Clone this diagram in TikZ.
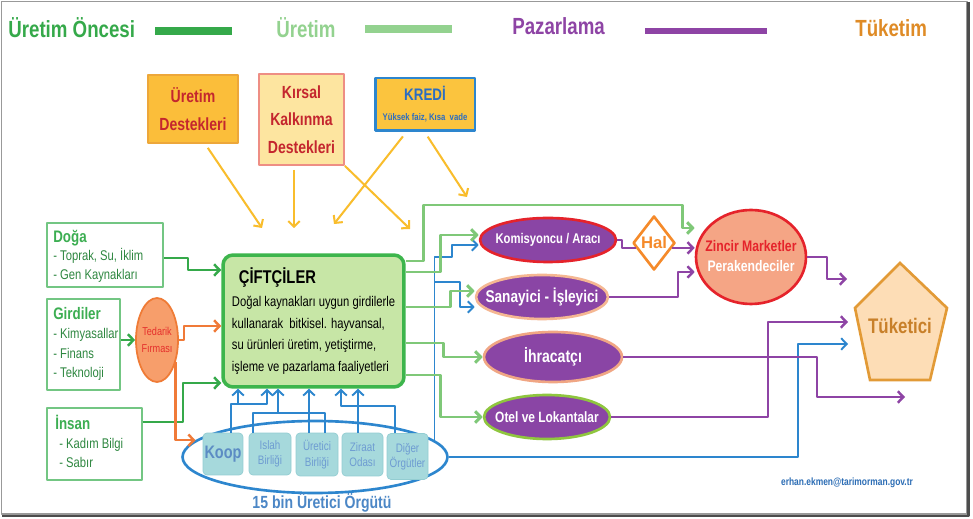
\documentclass[tikz,border=0pt]{standalone}
\usepackage{fontspec}
\setmainfont{Liberation Sans}
\newfontfamily\nar[FakeStretch=0.8]{Liberation Sans}
\usetikzlibrary{arrows.meta,shapes.geometric}
\newcommand\fsz[2]{\fontsize{#1}{#2}\selectfont}

\definecolor{cDgreen}{HTML}{35A94A}
\definecolor{cLgreen}{HTML}{93D28F}
\definecolor{cPurple}{HTML}{8E44A5}
\definecolor{cOrange}{HTML}{DF8B26}
\definecolor{cUredFill}{HTML}{FBBE3A}
\definecolor{cUredLine}{HTML}{EDA73A}
\definecolor{cDkred}{HTML}{C4262E}
\definecolor{cKirsFill}{HTML}{FDE5A0}
\definecolor{cKirsLine}{HTML}{EE8E84}
\definecolor{cKredFill}{HTML}{FBC43E}
\definecolor{cBlue}{HTML}{2D86CE}
\definecolor{cKredText}{HTML}{2B6DC2}
\definecolor{cYellow}{HTML}{F9BD2C}
\definecolor{cLbox}{HTML}{73C683}
\definecolor{cLhead}{HTML}{3CAE52}
\definecolor{cLitem}{HTML}{2E8740}
\definecolor{cTedFill}{HTML}{F79E6B}
\definecolor{cTedLine}{HTML}{EF7B36}
\definecolor{cTedText}{HTML}{E5302C}
\definecolor{cCifFill}{HTML}{C7E6A6}
\definecolor{cCifLine}{HTML}{3DB54C}
\definecolor{cOrgFill}{HTML}{A6D9DC}
\definecolor{cOrgLine}{HTML}{93CDD2}
\definecolor{cOrgText}{HTML}{6E9CD2}
\definecolor{cKoopText}{HTML}{5C8CC4}
\definecolor{cOrgLbl}{HTML}{4C87C6}
\definecolor{cConnGreen}{HTML}{7FC878}
\definecolor{cMkt}{HTML}{8A45A5}
\definecolor{cRed}{HTML}{E5232B}
\definecolor{cSanLine}{HTML}{F5B792}
\definecolor{cIhrLine}{HTML}{F0A684}
\definecolor{cOtelLine}{HTML}{8FC63F}
\definecolor{cHal}{HTML}{F58A2A}
\definecolor{cZinFill}{HTML}{F5A585}
\definecolor{cPentFill}{HTML}{FDDDB6}
\definecolor{cPentLine}{HTML}{E29A36}
\definecolor{cPentText}{HTML}{C8802A}
\definecolor{cEmail}{HTML}{2C6DB5}
\definecolor{cOrangeLn}{HTML}{F07A38}

\tikzset{
  barb/.style={-{Straight Barb[length=1.1mm,width=2.3mm]}},
  legend/.style={font=\nar\bfseries\fsz{13.3}{15}, inner sep=0, anchor=west},
  topbox/.style={rectangle, inner sep=0, align=center, font=\nar\bfseries\fsz{10}{15.7}, text=cDkred},
  yarr/.style={draw=cYellow, line width=1.15pt, barb},
  lbox/.style={rectangle, draw=cLbox, line width=1pt, fill=white, inner sep=0},
  ltext/.style={anchor=west, align=left, inner sep=0, text=cLitem},
  dg/.style={draw=cDgreen, line width=1.4pt, barb},
  og/.style={draw=cOrangeLn, line width=1.4pt, barb},
  lg/.style={draw=cConnGreen, line width=1.7pt, barb},
  bl/.style={draw=cBlue, line width=1.1pt},
  blarr/.style={bl, barb},
  pu/.style={draw=cPurple, line width=1.4pt},
  puarr/.style={pu, barb},
  orgbox/.style={rectangle, rounded corners=0.08cm, fill=cOrgFill, draw=cOrgLine, line width=0.4pt,
    inner sep=0, align=center, font=\nar\fsz{7}{8.7}, text=cOrgText},
  mkt/.style={ellipse, fill=cMkt, line width=1.5pt, inner sep=0},
  mkttext/.style={inner sep=0, text=white},
}

\begin{document}
\begin{tikzpicture}[x=0.02cm,y=-0.02cm,line join=round]
\useasboundingbox (0,0) rectangle (973,519);
\fill[white] (0,0) rectangle (973,519);

% frame with a shadow on the right and bottom
\draw[black!40, line width=0.7pt] (1.5,1.5) rectangle (967,514);
\draw[black!70, line width=1.6pt] (968.5,2) -- (968.5,516) -- (2,516);

% stage legend
\node[legend, text=cDgreen] (lgA) at (8,28) {Üretim Öncesi};
\node[legend, text=cLgreen] (lgB) at (276,28) {Üretim};
\node[legend, text=cPurple] (lgC) at (512,26) {Pazarlama};
\node[legend, text=cOrange] (lgD) at (855,28) {Tüketim};
\draw[cDgreen, line width=4pt] (155,31) -- (232,31);
\draw[cLgreen, line width=4pt] (365,29) -- (452,29);
\draw[cPurple, line width=3.6pt] (645,31) -- (767,31);

% support boxes
\node[topbox, fill=cUredFill, draw=cUredLine, line width=0.8pt, minimum width=1.8cm, minimum height=1.36cm] (ured) at (193,109) {Üretim\\Destekleri};
\node[topbox, fill=cKirsFill, draw=cKirsLine, line width=1pt, minimum width=1.7cm, minimum height=1.82cm] (kirsal) at (301.5,119.5) {Kırsal\\Kalkınma\\Destekleri};
\node[topbox, fill=cKredFill, draw=cBlue, line width=1.7pt, minimum width=2cm, minimum height=1.06cm, text=cKredText, font=\nar\bfseries\fsz{9.5}{11.3}] (kredi) at (425,104.5) {KREDİ\\{\fsz{5.5}{11.3}Yüksek faiz, Kısa\ \ vade}};

% inputs
\node[lbox, minimum width=2.32cm, minimum height=1.28cm] (doga) at (105,255) {};
\node[ltext, font=\nar\fsz{8}{10.5}] (dogaT) at (53,256) {{\fsz{9.5}{10.5}\bfseries\color{cLhead}Doğa}\\- Toprak, Su, İklim\\- Gen Kaynakları};
\node[lbox, minimum width=1.46cm, minimum height=1.82cm] (girdi) at (83.5,344.5) {};
\node[ltext, font=\nar\fsz{8}{11}] (girdiT) at (53,344) {{\fsz{9.5}{11}\bfseries\color{cLhead}Girdiler}\\- Kimyasallar\\- Finans\\- Teknoloji};
\node[lbox, minimum width=1.9cm, minimum height=1.44cm] (insan) at (94.5,444) {};
\node[ltext, font=\nar\fsz{8}{10.8}] (insanT) at (55,441) {{\fsz{9.5}{10.8}\bfseries\color{cLhead}İnsan}\\\hspace*{0.08cm}- Kadım Bilgi\\\hspace*{0.08cm}- Sabır};

\node[ellipse, fill=cTedFill, draw=cTedLine, line width=1pt, minimum width=0.84cm, minimum height=1.68cm, inner sep=0] (ted) at (157,340) {};
\node[font=\nar\fsz{6.5}{9.5}, text=cTedText, align=center, inner sep=0] (tedT) at (ted) {Tedarik\\Fırması};

% farmers
\node[rectangle, rounded corners=0.2cm, fill=cCifFill, draw=cCifLine, line width=2pt, minimum width=3.62cm, minimum height=2.64cm, inner sep=0, align=left, font=\nar\fsz{8}{12.2}] (ciftci) at (313.5,321) {{\fsz{10.5}{12.2}\bfseries\hspace*{0.14cm}ÇİFTÇİLER}\\[1pt]Doğal kaynakları uygun girdilerle\\kullanarak\ \ bitkisel. hayvansal,\\su ürünleri üretim, yetiştirme,\\işleme ve pazarlama faaliyetleri};

% producer organisations
\node[ellipse, draw=cBlue, line width=1.5pt, minimum width=5.3cm, minimum height=1.44cm, inner sep=0] (orgs) at (315,457) {};
\node[orgbox, minimum width=0.8cm, minimum height=0.84cm, font=\nar\bfseries\fsz{10.3}{12}, text=cKoopText] (koop) at (223,454) {Koop};
\node[orgbox, minimum width=0.84cm, minimum height=0.84cm] (islah) at (270,454) {Islah\\Birliği};
\node[orgbox, minimum width=0.84cm, minimum height=0.86cm] (uret) at (317,454.5) {Üretici\\Birliği};
\node[orgbox, minimum width=0.82cm, minimum height=0.86cm] (ziraat) at (362.5,454.5) {Ziraat\\Odası};
\node[orgbox, minimum width=0.82cm, minimum height=0.92cm] (diger) at (407.5,456.5) {Diğer\\Örgütler};
\node[font=\nar\bfseries\fsz{10}{12}, text=cOrgLbl, inner sep=0] (orgsL) at (322,503) {15 bin Üretici Örgütü};

% marketing channels
\node[mkt, draw=cRed, minimum width=2.72cm, minimum height=0.88cm] (komis) at (548,240) {};
\node[mkttext, font=\nar\bfseries\fsz{8}{9}] (komisT) at (komis) {Komisyoncu / Aracı};
\node[mkt, draw=cSanLine, minimum width=2.64cm, minimum height=0.88cm] (sanayi) at (542,297) {};
\node[mkttext, font=\nar\bfseries\fsz{9.7}{11}] (sanayiT) at (sanayi) {Sanayici - İşleyici};
\node[mkt, draw=cIhrLine, minimum width=2.76cm, minimum height=1cm] (ihrac) at (553,357) {};
\node[mkttext, font=\nar\bfseries\fsz{10}{11}] (ihracT) at (ihrac) {İhracatçı};
\node[mkt, draw=cOtelLine, minimum width=2.52cm, minimum height=0.88cm] (otel) at (547,417) {};
\node[mkttext, font=\nar\bfseries\fsz{8.5}{10}] (otelT) at (otel) {Otel ve Lokantalar};

\node[diamond, draw=cHal, fill=white, line width=1.5pt, minimum width=0.84cm, minimum height=1.08cm, inner sep=0] (hal) at (654,243) {};
\node[font=\bfseries\fsz{9.5}{11}, text=cHal, inner sep=0] (halT) at (hal) {Hal};

\node[ellipse, fill=cZinFill, draw=cRed, line width=1.5pt, minimum width=2.2cm, minimum height=1.88cm, inner sep=0] (zincir) at (751,257) {};
\node[align=center, inner sep=0, font=\nar\bfseries\fsz{8.7}{11.3}] (zincirT) at (751,256) {\textcolor{cRed}{Zincir Marketler}\\\textcolor{white}{Perakendeciler}};

% consumer
\draw[fill=cPentFill, draw=cPentLine, line width=1.5pt, line join=miter] (900,263) -- (947,308) -- (930,380) -- (870,380) -- (855,308) -- cycle;
\node[font=\nar\bfseries\fsz{12}{14}, text=cPentText, inner sep=0] (tuk) at (900,326) {Tüketici};
\coordinate (tk0) at (847,279);
\coordinate (tk1) at (848,322);
\coordinate (tk2) at (848,344);
\coordinate (tk3) at (905,397);

\node[font=\nar\bfseries\fsz{6}{7}, text=cEmail, inner sep=0] (mail) at (847,483) {erhan.ekmen@tarimorman.gov.tr};

% support arrows
\coordinate (ya) at (262,228);
\coordinate (yb) at (294,228);
\coordinate (yc) at (334,224);
\coordinate (yd) at (410,229);
\coordinate (ye) at (467,197);
\draw[yarr, shorten <=0.1cm] (205,0 |- ured.south) -- (ya);
\draw[yarr, shorten <=0.08cm] (294,0 |- kirsal.south) -- (yb);
\draw[yarr, shorten <=0.1cm] (406,0 |- kredi.south) -- (yc);
\draw[yarr] (kirsal.south east) -- (yd);
\draw[yarr, shorten <=0.1cm] (425,0 |- kredi.south) -- (ye);

% inputs into farmers
\draw[dg] (doga.east |- 0,258) -- (188,258) -- (188,270) -- (ciftci.west |- 0,270);
\draw[dg] (girdi.east |- ted.west) -- (ted.west);
\draw[dg] (insan.east |- 0,422) -- (183,422) -- (183,383) -- (ciftci.west |- 0,383);
\draw[og] (ted.east) -- (184,340) -- (184,326) -- (ciftci.west |- 0,326);
\draw[og] (ted.-50) |- (orgs.172);

% organisations support farmers
\draw[blarr] (231,0 |- koop.north) -- (231,404) -- (267,404) -- (267,0 |- ciftci.south);
\draw[blarr] (238,404) -- (238,0 |- ciftci.south);
\draw[bl] (253,0 |- islah.north) -- (253,413) -- (325,413) -- (325,0 |- uret.north);
\draw[blarr] (278,413) -- (278,0 |- ciftci.south);
\draw[blarr] (309,0 |- uret.north) -- (309,0 |- ciftci.south);
\draw[blarr] (358,0 |- ziraat.north) -- (358,0 |- ciftci.south);
\draw[blarr] (395,0 |- diger.north) -- (395,406) -- (341,406) -- (341,0 |- ciftci.south);

% organisations to markets and consumers
\draw[blarr] (orgs.8) |- (452,257) -- (452,245) -- (komis.west |- 0,245);
\draw[blarr] (orgs.8 |- 0,282) -- (460,282) -- (460,307) -- (sanayi.west |- 0,307);
\draw[blarr] (orgs.east) -- (798,457) -- (798,344) -- (tk2);

% farmers to markets
\draw[lg] (ciftci.east |- 0,261) -- (423,261) -- (423,205) -- (682,205) -- (682,228) -- (zincir.west |- 0,228);
\draw[lg] (ciftci.east |- 0,272) -- (440,272) -- (440,235) -- (komis.west |- 0,235);
\draw[lg] (ciftci.east |- 0,307) -- (450,307) -- (450,291) -- (sanayi.west |- 0,291);
\draw[lg] (ciftci.east |- 0,343) -- (443,343) -- (443,357) -- (ihrac.west);
\draw[lg] (ciftci.east |- 0,375) -- (440,375) -- (440,417) -- (otel.west);

% marketing flows
\draw[pu] (komis.east) -- (622,240) |- (hal.195);
\draw[puarr] (hal.345) -- (zincir.west |- hal.345);
\draw[puarr] (sanayi.east) -- (678,297) -- (678,272) -- (zincir.west |- 0,272);
\draw[puarr] (zincir.east) -- (827,257) -- (827,279) -- (tk0);
\draw[puarr] (ihrac.east) -- (817,357) -- (817,397) -- (tk3);
\draw[puarr] (otel.east) -- (768,417) -- (768,322) -- (tk1);
\end{tikzpicture}
\end{document}
